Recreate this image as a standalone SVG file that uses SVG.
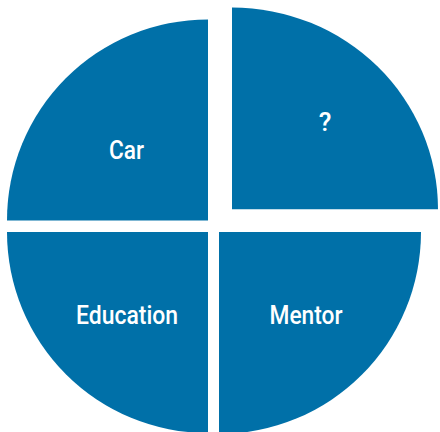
<svg xmlns="http://www.w3.org/2000/svg" width="440" height="432" viewBox="0 0 440 432">
  <style>
    .slice { fill: #0070a8; }
    .label { fill: #ffffff; font-family: "Liberation Sans Narrow", "Roboto", "Liberation Sans", sans-serif; font-size: 26px; font-weight: 500; text-anchor: middle; }
  </style>
  <rect width="440" height="432" fill="#ffffff"/>
  <g id="car">
    <path class="slice" d="M208,220.6 V19.4 A201,201 0 0 0 7,220.6 Z"/>
    <text class="label" x="126.5" y="159" textLength="35" lengthAdjust="spacingAndGlyphs">Car</text>
  </g>
  <g id="unknown">
    <path class="slice" d="M232,209.3 V7.5 A206,201.8 0 0 1 438,209.3 Z"/>
    <text class="label" x="325" y="131">?</text>
  </g>
  <g id="education">
    <path class="slice" d="M208,232 H7 A201,201 0 0 0 208,433 Z"/>
    <text class="label" x="127" y="324.3" textLength="102" lengthAdjust="spacingAndGlyphs">Education</text>
  </g>
  <g id="mentor">
    <path class="slice" d="M219,232 H421 A202,202 0 0 1 219,434 Z"/>
    <text class="label" x="306" y="324.3" textLength="73" lengthAdjust="spacingAndGlyphs">Mentor</text>
  </g>
  <g id="connectors"/>
</svg>
